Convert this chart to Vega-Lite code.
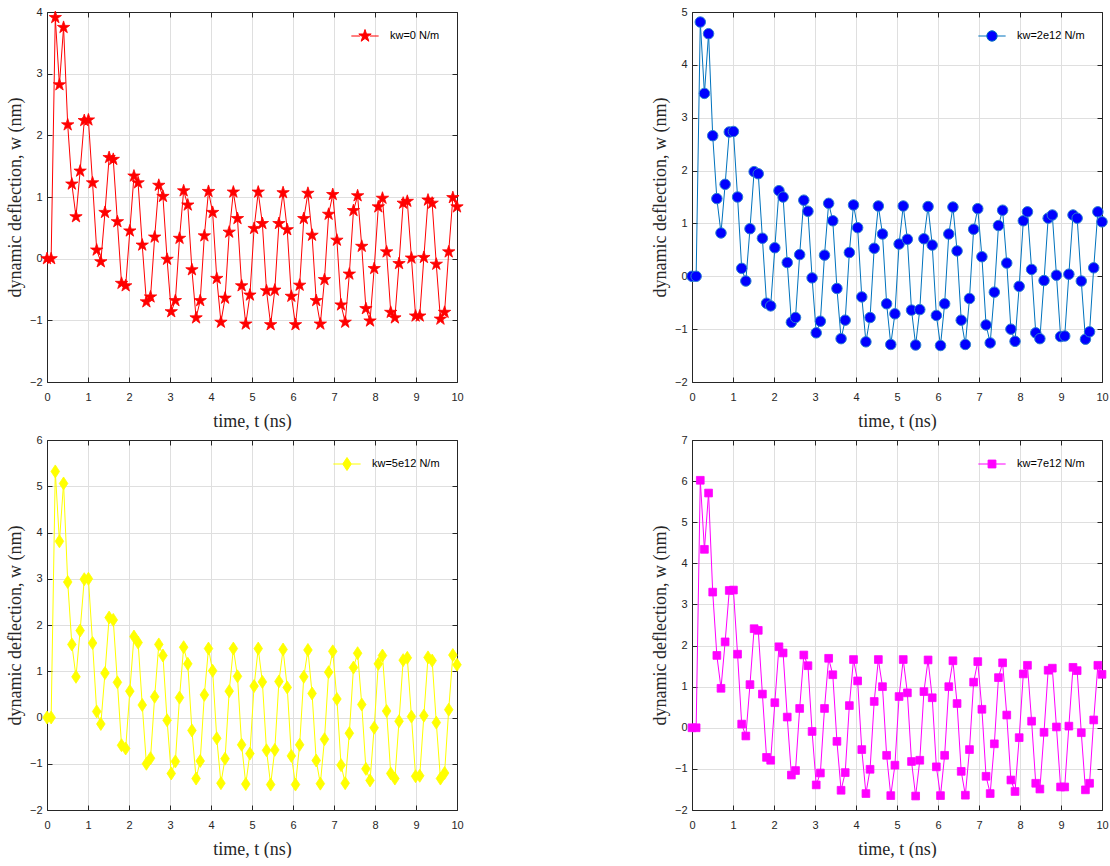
{
  "$schema": "https://vega.github.io/schema/vega-lite/v6.json",
  "padding": {"left": 6, "top": 6, "right": 0, "bottom": 0},
  "background": "white",
  "datasets": {
    "a": [
      {"t":0,"w":0},{"t":0.101,"w":0},{"t":0.202,"w":3.91},{"t":0.303,"w":2.82},{"t":0.404,"w":3.75},{"t":0.505,"w":2.17},{"t":0.606,"w":1.21},{"t":0.707,"w":0.68},{"t":0.808,"w":1.42},{"t":0.909,"w":2.24},
      {"t":1.01,"w":2.25},{"t":1.111,"w":1.23},{"t":1.212,"w":0.14},{"t":1.313,"w":-0.05},{"t":1.414,"w":0.75},{"t":1.515,"w":1.64},{"t":1.616,"w":1.61},{"t":1.717,"w":0.6},{"t":1.818,"w":-0.4},{"t":1.919,"w":-0.44},
      {"t":2.02,"w":0.45},{"t":2.121,"w":1.34},{"t":2.222,"w":1.23},{"t":2.323,"w":0.22},{"t":2.424,"w":-0.7},{"t":2.525,"w":-0.62},{"t":2.626,"w":0.35},{"t":2.727,"w":1.19},{"t":2.828,"w":1.01},{"t":2.929,"w":-0.01},
      {"t":3.03,"w":-0.86},{"t":3.131,"w":-0.68},{"t":3.232,"w":0.33},{"t":3.333,"w":1.1},{"t":3.434,"w":0.87},{"t":3.535,"w":-0.18},{"t":3.636,"w":-0.96},{"t":3.737,"w":-0.68},{"t":3.838,"w":0.37},{"t":3.939,"w":1.09},
      {"t":4.04,"w":0.75},{"t":4.141,"w":-0.32},{"t":4.242,"w":-1.03},{"t":4.343,"w":-0.64},{"t":4.444,"w":0.43},{"t":4.545,"w":1.08},{"t":4.646,"w":0.65},{"t":4.747,"w":-0.44},{"t":4.848,"w":-1.06},{"t":4.949,"w":-0.59},
      {"t":5.051,"w":0.49},{"t":5.152,"w":1.08},{"t":5.253,"w":0.57},{"t":5.354,"w":-0.52},{"t":5.455,"w":-1.07},{"t":5.556,"w":-0.51},{"t":5.657,"w":0.57},{"t":5.758,"w":1.07},{"t":5.859,"w":0.47},{"t":5.96,"w":-0.61},
      {"t":6.061,"w":-1.07},{"t":6.162,"w":-0.43},{"t":6.263,"w":0.65},{"t":6.364,"w":1.06},{"t":6.465,"w":0.38},{"t":6.566,"w":-0.68},{"t":6.667,"w":-1.06},{"t":6.768,"w":-0.34},{"t":6.869,"w":0.72},{"t":6.97,"w":1.04},
      {"t":7.071,"w":0.3},{"t":7.172,"w":-0.75},{"t":7.273,"w":-1.03},{"t":7.374,"w":-0.25},{"t":7.475,"w":0.78},{"t":7.576,"w":1.02},{"t":7.677,"w":0.2},{"t":7.778,"w":-0.81},{"t":7.879,"w":-1.01},{"t":7.98,"w":-0.16},
      {"t":8.081,"w":0.84},{"t":8.182,"w":0.98},{"t":8.283,"w":0.11},{"t":8.384,"w":-0.87},{"t":8.485,"w":-0.96},{"t":8.586,"w":-0.08},{"t":8.687,"w":0.9},{"t":8.788,"w":0.93},{"t":8.889,"w":0.01},{"t":8.99,"w":-0.93},
      {"t":9.091,"w":-0.93},{"t":9.192,"w":0.02},{"t":9.293,"w":0.95},{"t":9.394,"w":0.9},{"t":9.495,"w":-0.09},{"t":9.596,"w":-0.98},{"t":9.697,"w":-0.87},{"t":9.798,"w":0.11},{"t":9.899,"w":0.99},{"t":10,"w":0.84}
    ],
    "b": [
      {"t":0,"w":0},{"t":0.101,"w":0},{"t":0.202,"w":4.81},{"t":0.303,"w":3.46},{"t":0.404,"w":4.59},{"t":0.505,"w":2.66},{"t":0.606,"w":1.47},{"t":0.707,"w":0.82},{"t":0.808,"w":1.74},{"t":0.909,"w":2.73},
      {"t":1.01,"w":2.74},{"t":1.111,"w":1.5},{"t":1.212,"w":0.15},{"t":1.313,"w":-0.09},{"t":1.414,"w":0.9},{"t":1.515,"w":1.98},{"t":1.616,"w":1.94},{"t":1.717,"w":0.72},{"t":1.818,"w":-0.51},{"t":1.919,"w":-0.56},
      {"t":2.02,"w":0.54},{"t":2.121,"w":1.62},{"t":2.222,"w":1.5},{"t":2.323,"w":0.26},{"t":2.424,"w":-0.87},{"t":2.525,"w":-0.78},{"t":2.626,"w":0.41},{"t":2.727,"w":1.44},{"t":2.828,"w":1.23},{"t":2.929,"w":-0.03},
      {"t":3.03,"w":-1.07},{"t":3.131,"w":-0.85},{"t":3.232,"w":0.4},{"t":3.333,"w":1.38},{"t":3.434,"w":1.05},{"t":3.535,"w":-0.23},{"t":3.636,"w":-1.18},{"t":3.737,"w":-0.83},{"t":3.838,"w":0.45},{"t":3.939,"w":1.35},
      {"t":4.04,"w":0.92},{"t":4.141,"w":-0.39},{"t":4.242,"w":-1.24},{"t":4.343,"w":-0.78},{"t":4.444,"w":0.53},{"t":4.545,"w":1.33},{"t":4.646,"w":0.8},{"t":4.747,"w":-0.52},{"t":4.848,"w":-1.29},{"t":4.949,"w":-0.71},
      {"t":5.051,"w":0.61},{"t":5.152,"w":1.33},{"t":5.253,"w":0.7},{"t":5.354,"w":-0.64},{"t":5.455,"w":-1.3},{"t":5.556,"w":-0.63},{"t":5.657,"w":0.71},{"t":5.758,"w":1.32},{"t":5.859,"w":0.59},{"t":5.96,"w":-0.74},
      {"t":6.061,"w":-1.31},{"t":6.162,"w":-0.52},{"t":6.263,"w":0.8},{"t":6.364,"w":1.31},{"t":6.465,"w":0.48},{"t":6.566,"w":-0.83},{"t":6.667,"w":-1.29},{"t":6.768,"w":-0.42},{"t":6.869,"w":0.89},{"t":6.97,"w":1.28},
      {"t":7.071,"w":0.37},{"t":7.172,"w":-0.92},{"t":7.273,"w":-1.26},{"t":7.374,"w":-0.3},{"t":7.475,"w":0.96},{"t":7.576,"w":1.25},{"t":7.677,"w":0.25},{"t":7.778,"w":-1.0},{"t":7.879,"w":-1.23},{"t":7.98,"w":-0.19},
      {"t":8.081,"w":1.05},{"t":8.182,"w":1.22},{"t":8.283,"w":0.13},{"t":8.384,"w":-1.07},{"t":8.485,"w":-1.18},{"t":8.586,"w":-0.08},{"t":8.687,"w":1.1},{"t":8.788,"w":1.16},{"t":8.889,"w":0.02},{"t":8.99,"w":-1.14},
      {"t":9.091,"w":-1.13},{"t":9.192,"w":0.04},{"t":9.293,"w":1.16},{"t":9.394,"w":1.1},{"t":9.495,"w":-0.09},{"t":9.596,"w":-1.19},{"t":9.697,"w":-1.05},{"t":9.798,"w":0.16},{"t":9.899,"w":1.22},{"t":10,"w":1.03}
    ],
    "c": [
      {"t":0,"w":0},{"t":0.101,"w":0},{"t":0.202,"w":5.32},{"t":0.303,"w":3.81},{"t":0.404,"w":5.06},{"t":0.505,"w":2.93},{"t":0.606,"w":1.58},{"t":0.707,"w":0.88},{"t":0.808,"w":1.88},{"t":0.909,"w":2.99},
      {"t":1.01,"w":3.0},{"t":1.111,"w":1.61},{"t":1.212,"w":0.13},{"t":1.313,"w":-0.14},{"t":1.414,"w":0.96},{"t":1.515,"w":2.16},{"t":1.616,"w":2.11},{"t":1.717,"w":0.76},{"t":1.818,"w":-0.6},{"t":1.919,"w":-0.67},
      {"t":2.02,"w":0.57},{"t":2.121,"w":1.75},{"t":2.222,"w":1.62},{"t":2.323,"w":0.27},{"t":2.424,"w":-1.0},{"t":2.525,"w":-0.88},{"t":2.626,"w":0.45},{"t":2.727,"w":1.58},{"t":2.828,"w":1.34},{"t":2.929,"w":-0.06},
      {"t":3.03,"w":-1.21},{"t":3.131,"w":-0.95},{"t":3.232,"w":0.43},{"t":3.333,"w":1.52},{"t":3.434,"w":1.16},{"t":3.535,"w":-0.28},{"t":3.636,"w":-1.32},{"t":3.737,"w":-0.94},{"t":3.838,"w":0.49},{"t":3.939,"w":1.49},
      {"t":4.04,"w":1.01},{"t":4.141,"w":-0.45},{"t":4.242,"w":-1.42},{"t":4.343,"w":-0.89},{"t":4.444,"w":0.57},{"t":4.545,"w":1.49},{"t":4.646,"w":0.89},{"t":4.747,"w":-0.59},{"t":4.848,"w":-1.44},{"t":4.949,"w":-0.78},
      {"t":5.051,"w":0.68},{"t":5.152,"w":1.49},{"t":5.253,"w":0.77},{"t":5.354,"w":-0.71},{"t":5.455,"w":-1.45},{"t":5.556,"w":-0.7},{"t":5.657,"w":0.78},{"t":5.758,"w":1.47},{"t":5.859,"w":0.65},{"t":5.96,"w":-0.83},
      {"t":6.061,"w":-1.45},{"t":6.162,"w":-0.59},{"t":6.263,"w":0.88},{"t":6.364,"w":1.46},{"t":6.465,"w":0.52},{"t":6.566,"w":-0.93},{"t":6.667,"w":-1.43},{"t":6.768,"w":-0.47},{"t":6.869,"w":0.98},{"t":6.97,"w":1.43},
      {"t":7.071,"w":0.4},{"t":7.172,"w":-1.03},{"t":7.273,"w":-1.42},{"t":7.374,"w":-0.34},{"t":7.475,"w":1.08},{"t":7.576,"w":1.39},{"t":7.677,"w":0.28},{"t":7.778,"w":-1.11},{"t":7.879,"w":-1.36},{"t":7.98,"w":-0.22},
      {"t":8.081,"w":1.16},{"t":8.182,"w":1.34},{"t":8.283,"w":0.14},{"t":8.384,"w":-1.21},{"t":8.485,"w":-1.32},{"t":8.586,"w":-0.08},{"t":8.687,"w":1.24},{"t":8.788,"w":1.29},{"t":8.889,"w":0.02},{"t":8.99,"w":-1.27},
      {"t":9.091,"w":-1.26},{"t":9.192,"w":0.04},{"t":9.293,"w":1.3},{"t":9.394,"w":1.23},{"t":9.495,"w":-0.11},{"t":9.596,"w":-1.32},{"t":9.697,"w":-1.2},{"t":9.798,"w":0.17},{"t":9.899,"w":1.35},{"t":10,"w":1.14}
    ],
    "d": [
      {"t":0,"w":0},{"t":0.101,"w":0},{"t":0.202,"w":6.02},{"t":0.303,"w":4.34},{"t":0.404,"w":5.71},{"t":0.505,"w":3.3},{"t":0.606,"w":1.76},{"t":0.707,"w":0.96},{"t":0.808,"w":2.09},{"t":0.909,"w":3.34},
      {"t":1.01,"w":3.35},{"t":1.111,"w":1.79},{"t":1.212,"w":0.09},{"t":1.313,"w":-0.2},{"t":1.414,"w":1.05},{"t":1.515,"w":2.41},{"t":1.616,"w":2.37},{"t":1.717,"w":0.82},{"t":1.818,"w":-0.72},{"t":1.919,"w":-0.79},
      {"t":2.02,"w":0.61},{"t":2.121,"w":1.97},{"t":2.222,"w":1.82},{"t":2.323,"w":0.26},{"t":2.424,"w":-1.15},{"t":2.525,"w":-1.04},{"t":2.626,"w":0.47},{"t":2.727,"w":1.77},{"t":2.828,"w":1.51},{"t":2.929,"w":-0.09},
      {"t":3.03,"w":-1.39},{"t":3.131,"w":-1.1},{"t":3.232,"w":0.47},{"t":3.333,"w":1.69},{"t":3.434,"w":1.29},{"t":3.535,"w":-0.33},{"t":3.636,"w":-1.52},{"t":3.737,"w":-1.09},{"t":3.838,"w":0.54},{"t":3.939,"w":1.66},
      {"t":4.04,"w":1.14},{"t":4.141,"w":-0.53},{"t":4.242,"w":-1.6},{"t":4.343,"w":-1.01},{"t":4.444,"w":0.64},{"t":4.545,"w":1.66},{"t":4.646,"w":1.0},{"t":4.747,"w":-0.67},{"t":4.848,"w":-1.65},{"t":4.949,"w":-0.91},
      {"t":5.051,"w":0.76},{"t":5.152,"w":1.66},{"t":5.253,"w":0.85},{"t":5.354,"w":-0.82},{"t":5.455,"w":-1.66},{"t":5.556,"w":-0.79},{"t":5.657,"w":0.88},{"t":5.758,"w":1.65},{"t":5.859,"w":0.73},{"t":5.96,"w":-0.95},
      {"t":6.061,"w":-1.65},{"t":6.162,"w":-0.67},{"t":6.263,"w":1.0},{"t":6.364,"w":1.63},{"t":6.465,"w":0.59},{"t":6.566,"w":-1.06},{"t":6.667,"w":-1.64},{"t":6.768,"w":-0.53},{"t":6.869,"w":1.11},{"t":6.97,"w":1.61},
      {"t":7.071,"w":0.45},{"t":7.172,"w":-1.18},{"t":7.273,"w":-1.6},{"t":7.374,"w":-0.39},{"t":7.475,"w":1.22},{"t":7.576,"w":1.58},{"t":7.677,"w":0.31},{"t":7.778,"w":-1.27},{"t":7.879,"w":-1.55},{"t":7.98,"w":-0.24},
      {"t":8.081,"w":1.31},{"t":8.182,"w":1.52},{"t":8.283,"w":0.16},{"t":8.384,"w":-1.35},{"t":8.485,"w":-1.49},{"t":8.586,"w":-0.11},{"t":8.687,"w":1.4},{"t":8.788,"w":1.45},{"t":8.889,"w":0.02},{"t":8.99,"w":-1.44},
      {"t":9.091,"w":-1.44},{"t":9.192,"w":0.04},{"t":9.293,"w":1.47},{"t":9.394,"w":1.39},{"t":9.495,"w":-0.12},{"t":9.596,"w":-1.51},{"t":9.697,"w":-1.35},{"t":9.798,"w":0.19},{"t":9.899,"w":1.52},{"t":10,"w":1.3}
    ]
  },
  "columns": 2,
  "spacing": {"row": 4, "column": 186},
  "resolve": {"scale": {"color": "independent"}, "legend": {"color": "independent"}},
  "concat": [
    {
      "width": 410, "height": 370,
      "data": {"name": "a"},
      "layer": [
        {
          "mark": {"type": "line", "color": "#FF0000", "strokeWidth": 1},
          "encoding": {
            "x": {"field": "t", "type": "quantitative", "scale": {"domain": [0, 10], "nice": false, "zero": false}, "axis": {"values": [0,1,2,3,4,5,6,7,8,9,10], "title": "time, t (ns)"}},
            "y": {"field": "w", "type": "quantitative", "scale": {"domain": [-2, 4], "nice": false}, "axis": {"values": [-2,-1,0,1,2,3,4], "title": "dynamic deflection, w (nm)"}}
          }
        },
        {
          "mark": {"type": "point", "shape": "M0,-1L0.2245,-0.309L0.9511,-0.309L0.3633,0.118L0.5878,0.809L0,0.382L-0.5878,0.809L-0.3633,0.118L-0.9511,-0.309L-0.2245,-0.309Z", "filled": true, "size": 169, "stroke": "#FF0000", "strokeWidth": 0.8, "opacity": 1},
          "encoding": {
            "x": {"field": "t", "type": "quantitative", "axis": {"orient": "top", "labels": false, "title": null, "grid": false, "values": [0,1,2,3,4,5,6,7,8,9,10]}},
            "y": {"field": "w", "type": "quantitative", "axis": {"orient": "right", "labels": false, "title": null, "grid": false, "values": [-2,-1,0,1,2,3,4]}},
            "color": {"datum": "kw=0 N/m", "type": "nominal", "scale": {"range": ["#FF0000"]},
              "legend": {"title": null, "orient": "top-right", "symbolType": "M-2.1,0L-0.75,0M0.75,0L2.1,0M0,-1L0.2245,-0.309L0.9511,-0.309L0.3633,0.118L0.5878,0.809L0,0.382L-0.5878,0.809L-0.3633,0.118L-0.9511,-0.309L-0.2245,-0.309Z", "symbolSize": 169, "symbolStrokeWidth": 1, "symbolStrokeColor": "#FF0000"}}
          }
        }
      ],
      "resolve": {"axis": {"x": "independent", "y": "independent"}}
    },
    {
      "width": 410, "height": 370,
      "data": {"name": "b"},
      "layer": [
        {
          "mark": {"type": "line", "color": "#0072BD", "strokeWidth": 1},
          "encoding": {
            "x": {"field": "t", "type": "quantitative", "scale": {"domain": [0, 10], "nice": false, "zero": false}, "axis": {"values": [0,1,2,3,4,5,6,7,8,9,10], "title": "time, t (ns)"}},
            "y": {"field": "w", "type": "quantitative", "scale": {"domain": [-2, 5], "nice": false}, "axis": {"values": [-2,-1,0,1,2,3,4,5], "title": "dynamic deflection, w (nm)"}}
          }
        },
        {
          "mark": {"type": "point", "shape": "circle", "filled": true, "size": 110, "stroke": "#2C7FD0", "strokeWidth": 1, "opacity": 1},
          "encoding": {
            "x": {"field": "t", "type": "quantitative", "axis": {"orient": "top", "labels": false, "title": null, "grid": false, "values": [0,1,2,3,4,5,6,7,8,9,10]}},
            "y": {"field": "w", "type": "quantitative", "axis": {"orient": "right", "labels": false, "title": null, "grid": false, "values": [-2,-1,0,1,2,3,4,5]}},
            "color": {"datum": "kw=2e12 N/m", "type": "nominal", "scale": {"range": ["#0000FF"]},
              "legend": {"title": null, "orient": "top-right", "symbolType": "M-2.1,0L-0.8,0M0.8,0L2.1,0M0.8,0A0.8,0.8,0,1,1,-0.8,0A0.8,0.8,0,1,1,0.8,0Z", "symbolSize": 169, "symbolStrokeWidth": 1, "symbolStrokeColor": "#0072BD"}}
          }
        }
      ],
      "resolve": {"axis": {"x": "independent", "y": "independent"}}
    },
    {
      "width": 410, "height": 370,
      "data": {"name": "c"},
      "layer": [
        {
          "mark": {"type": "line", "color": "#FFFF00", "strokeWidth": 1},
          "encoding": {
            "x": {"field": "t", "type": "quantitative", "scale": {"domain": [0, 10], "nice": false, "zero": false}, "axis": {"values": [0,1,2,3,4,5,6,7,8,9,10], "title": "time, t (ns)"}},
            "y": {"field": "w", "type": "quantitative", "scale": {"domain": [-2, 6], "nice": false}, "axis": {"values": [-2,-1,0,1,2,3,4,5,6], "title": "dynamic deflection, w (nm)"}}
          }
        },
        {
          "mark": {"type": "point", "shape": "M0,-1L0.66,0L0,1L-0.66,0Z", "filled": true, "size": 169, "stroke": "#FFFF00", "strokeWidth": 0.8, "opacity": 1},
          "encoding": {
            "x": {"field": "t", "type": "quantitative", "axis": {"orient": "top", "labels": false, "title": null, "grid": false, "values": [0,1,2,3,4,5,6,7,8,9,10]}},
            "y": {"field": "w", "type": "quantitative", "axis": {"orient": "right", "labels": false, "title": null, "grid": false, "values": [-2,-1,0,1,2,3,4,5,6]}},
            "color": {"datum": "kw=5e12 N/m", "type": "nominal", "scale": {"range": ["#FFFF00"]},
              "legend": {"title": null, "orient": "top-right", "symbolType": "M-2.1,0L-0.66,0M0.66,0L2.1,0M0,-1L0.66,0L0,1L-0.66,0Z", "symbolSize": 169, "symbolStrokeWidth": 1, "symbolStrokeColor": "#FFFF00"}}
          }
        }
      ],
      "resolve": {"axis": {"x": "independent", "y": "independent"}}
    },
    {
      "width": 410, "height": 370,
      "data": {"name": "d"},
      "layer": [
        {
          "mark": {"type": "line", "color": "#FF00FF", "strokeWidth": 1},
          "encoding": {
            "x": {"field": "t", "type": "quantitative", "scale": {"domain": [0, 10], "nice": false, "zero": false}, "axis": {"values": [0,1,2,3,4,5,6,7,8,9,10], "title": "time, t (ns)"}},
            "y": {"field": "w", "type": "quantitative", "scale": {"domain": [-2, 7], "nice": false}, "axis": {"values": [-2,-1,0,1,2,3,4,5,6,7], "title": "dynamic deflection, w (nm)"}}
          }
        },
        {
          "mark": {"type": "point", "shape": "square", "filled": true, "size": 60, "stroke": "#FF00FF", "strokeWidth": 0.8, "opacity": 1},
          "encoding": {
            "x": {"field": "t", "type": "quantitative", "axis": {"orient": "top", "labels": false, "title": null, "grid": false, "values": [0,1,2,3,4,5,6,7,8,9,10]}},
            "y": {"field": "w", "type": "quantitative", "axis": {"orient": "right", "labels": false, "title": null, "grid": false, "values": [-2,-1,0,1,2,3,4,5,6,7]}},
            "color": {"datum": "kw=7e12 N/m", "type": "nominal", "scale": {"range": ["#FF00FF"]},
              "legend": {"title": null, "orient": "top-right", "symbolType": "M-2.1,0L-0.6,0M0.6,0L2.1,0M-0.6,-0.6L0.6,-0.6L0.6,0.6L-0.6,0.6Z", "symbolSize": 169, "symbolStrokeWidth": 1, "symbolStrokeColor": "#FF00FF"}}
          }
        }
      ],
      "resolve": {"axis": {"x": "independent", "y": "independent"}}
    }
  ],
  "config": {
    "view": {"stroke": null},
    "axis": {
      "domainColor": "#262626", "domainWidth": 1,
      "tickColor": "#262626", "tickWidth": 1, "tickSize": -5,
      "labelColor": "#262626", "labelFont": "Liberation Sans", "labelFontSize": 11,
      "titleFont": "Liberation Serif", "titleFontSize": 18, "titleFontWeight": "normal", "titleColor": "#262626",
      "gridColor": "#DFDFDF", "gridWidth": 1
    },
    "axisX": {"labelPadding": 14, "titlePadding": 10, "labelFlush": false},
    "axisY": {"labelPadding": 10, "titlePadding": 5},
    "legend": {
      "labelFont": "Liberation Sans", "labelFontSize": 11, "labelColor": "#000000",
      "offset": 12, "padding": 5, "symbolOffset": 7, "labelOffset": 18,
      "strokeColor": null
    }
  }
}
